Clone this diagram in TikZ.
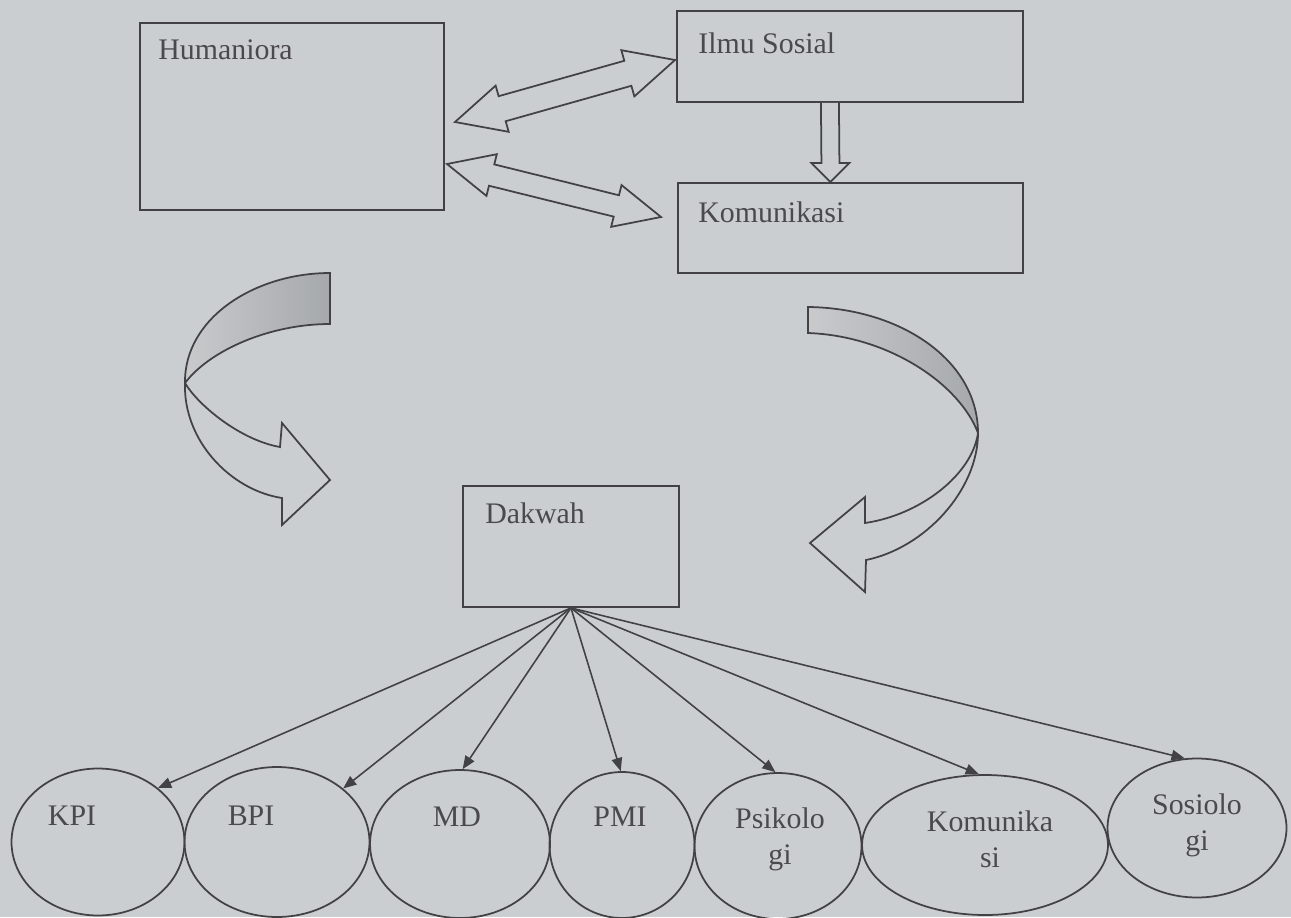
\documentclass[tikz,border=0pt]{standalone}
\usepackage{fontspec}
\setmainfont{Liberation Serif}
\usetikzlibrary{calc,shapes.geometric,arrows.meta}
\definecolor{bg}{RGB}{203,206,208}
\definecolor{ink}{RGB}{66,66,68}
\definecolor{txt}{RGB}{74,74,76}
\definecolor{bandlight}{RGB}{200,202,204}
\definecolor{banddark}{RGB}{166,169,171}
\newcommand\dblarrow[5]{%
  \draw[fat] (#1)
    -- ($(#1)!#3!(#2)!#4!90:(#2)$)
    -- ($(#1)!#3!(#2)!#5!90:(#2)$)
    -- ($(#2)!#3!(#1)!#5!-90:(#1)$)
    -- ($(#2)!#3!(#1)!#4!-90:(#1)$)
    -- (#2)
    -- ($(#2)!#3!(#1)!#4!90:(#1)$)
    -- ($(#2)!#3!(#1)!#5!90:(#1)$)
    -- ($(#1)!#3!(#2)!#5!-90:(#2)$)
    -- ($(#1)!#3!(#2)!#4!-90:(#2)$)
    -- cycle;}
\begin{document}
\begin{tikzpicture}[x=0.02cm,y=-0.02cm,
  box/.style={draw=ink, line width=1.1pt, rectangle, inner sep=0pt, anchor=north west},
  oval/.style={draw=ink, line width=1pt, ellipse, inner sep=0pt},
  lbl/.style={text=txt, font=\fontsize{17}{20.4}\selectfont, inner sep=0pt},
  fat/.style={draw=ink, line width=1pt, line join=miter, fill=bg},
  band/.style={draw=ink, line width=1pt, line join=miter},
  link/.style={draw=ink, line width=0.9pt, -{Triangle[length=7.5pt,width=6pt]}},
]
\fill[bg] (0,0) rectangle (1291,917);
\useasboundingbox (0,0) rectangle (1291,917);

% boxes
\node[box, minimum width=6.08cm, minimum height=3.74cm] (hum) at (139,22) {};
\node[box, minimum width=6.92cm, minimum height=1.82cm] (ilmu) at (676,10) {};
\node[box, minimum width=6.90cm, minimum height=1.80cm] (kom) at (677,182) {};
\node[box, minimum width=4.32cm, minimum height=2.42cm] (dak) at (462,485) {};

\node[lbl, anchor=base west] (humt) at (158,59) {Humaniora};
\node[lbl, anchor=base west] (ilmut) at (698,53) {Ilmu Sosial};
\node[lbl, anchor=base west] (komt) at (698,222) {Komunikasi};
\node[lbl, anchor=base west] (dakt) at (485,523) {Dakwah};

% double arrows
\coordinate (a1) at (455,122);
\coordinate (b1) at (675,60);
\coordinate (a2) at (447,164);
\coordinate (b2) at (661,217);
\dblarrow{a1}{b1}{0.98cm}{0.48cm}{0.26cm}
\dblarrow{a2}{b2}{0.92cm}{0.43cm}{0.22cm}

% down arrow
\coordinate (ds) at ($(ilmu.south)+(-20,0)$);
\coordinate (dt) at ($(kom.north)+(-20,0)$);
\draw[fat] ($(ds)+(-9,0)$) -- ($(dt)+(-9,-19)$) -- ($(dt)+(-19,-19)$) -- (dt)
  -- ($(dt)+(19,-19)$) -- ($(dt)+(9,-19)$) -- ($(ds)+(9,0)$);

% left curved arrow
\shadedraw[band, left color=bandlight, right color=banddark]
  (330,273) .. controls (255,273) and (184,318) .. (185,383)
  .. controls (210,350) and (270,324) .. (330,324) -- cycle;
\filldraw[band, fill=bg]
  (185,383) .. controls (183,440) and (230,490) .. (282,498)
  -- (282,525) -- (330,480) -- (282,423) -- (280,447)
  .. controls (240,440) and (198,405) .. (185,383) -- cycle;

% right curved arrow
\shadedraw[band, left color=bandlight, right color=banddark]
  (808,307) .. controls (900,308) and (978,360) .. (978,433)
  .. controls (960,385) and (890,336) .. (808,333) -- cycle;
\filldraw[band, fill=bg]
  (978,433) .. controls (978,490) and (925,548) .. (866,560)
  -- (865,592) -- (810,543) -- (865,497) -- (865,523)
  .. controls (920,515) and (972,475) .. (978,433) -- cycle;

% ellipses
\node[oval, minimum width=3.46cm, minimum height=2.94cm] (kpi) at (98,842) {};
\node[oval, minimum width=3.70cm, minimum height=3.00cm] (bpi) at (277,842) {};
\node[oval, minimum width=3.60cm, minimum height=2.96cm] (md) at (460,844) {};
\node[oval, minimum width=2.90cm, minimum height=2.92cm] (pmi) at (622,845) {};
\node[oval, minimum width=3.34cm, minimum height=2.92cm] (psi) at (778,846) {};
\node[oval, minimum width=4.92cm, minimum height=2.80cm] (kom2) at (985,845) {};
\node[oval, minimum width=3.58cm, minimum height=2.78cm] (sos) at (1197,828) {};

\node[lbl, anchor=base] (kpit) at (72,825) {KPI};
\node[lbl, anchor=base] (bpit) at (251,825) {BPI};
\node[lbl, anchor=base] (mdt) at (457,826) {MD};
\node[lbl, anchor=base] (pmit) at (620,826) {PMI};
\node[lbl, anchor=base, align=center] (psit) at (780,864) {Psikolo\\gi};
\node[lbl, anchor=base, align=center] (kom2t) at (990,867) {Komunika\\si};
\node[lbl, anchor=base, align=center] (sost) at (1197,850) {Sosiolo\\gi};

% links
\foreach \t/\a in {kpi/42, bpi/39, md/88, pmi/91, psi/92, kom2/95, sos/100}
  \draw[link] (dak.south) -- (\t.\a);
\end{tikzpicture}
\end{document}
